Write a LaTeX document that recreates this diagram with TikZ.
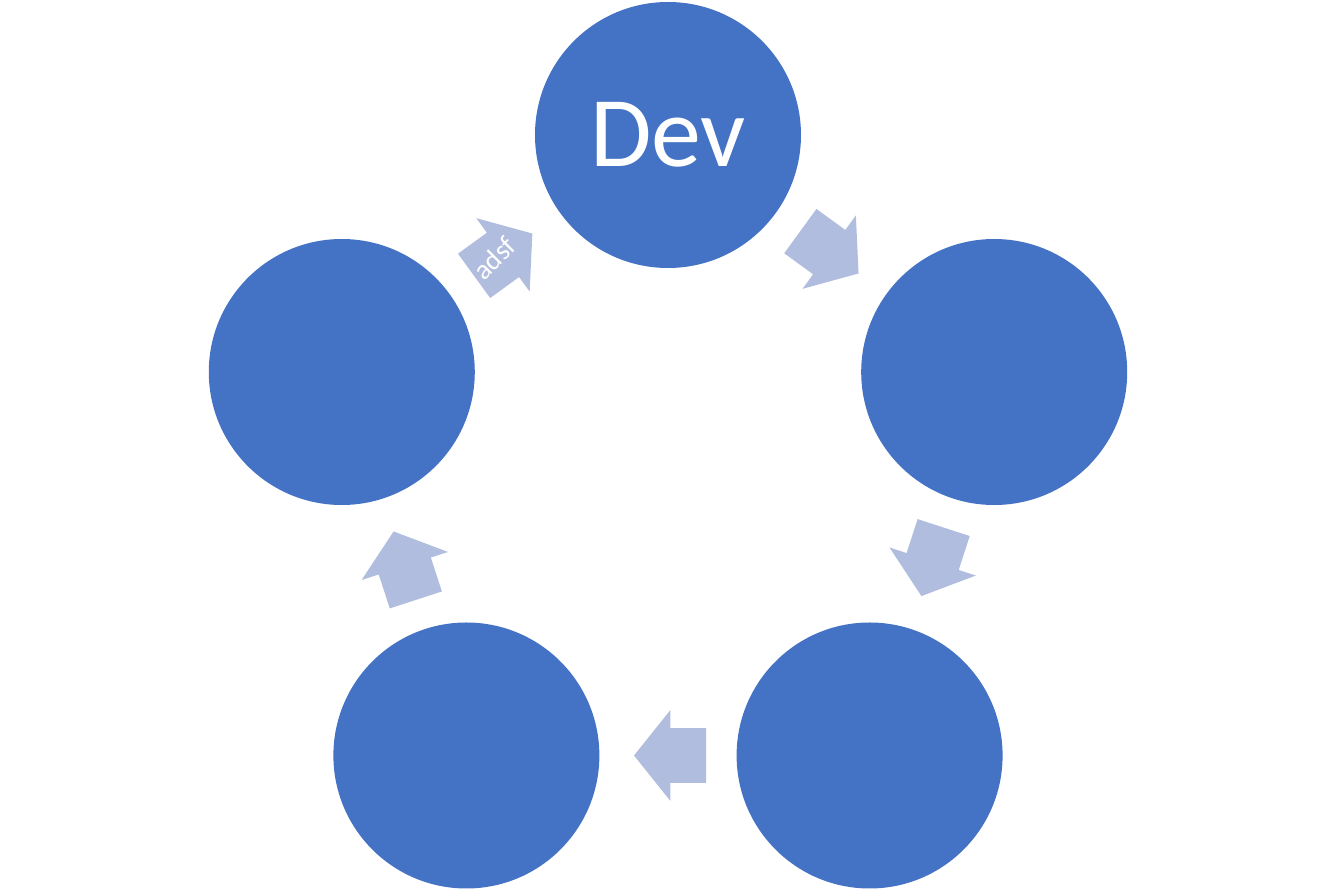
\documentclass[tikz,border=0pt]{standalone}
\usepackage{fontspec}
\setmainfont{Carlito}
\usepackage{xcolor}
\usetikzlibrary{calc,shapes.arrows}
\definecolor{stage}{HTML}{4472C4}
\definecolor{flow}{HTML}{B1BDDF}

\begin{document}
\begin{tikzpicture}[
    x=0.5pt, y=0.5pt,
    stage/.style={circle, fill=stage, minimum size=133pt, inner sep=0pt,
      text=white, font=\fontsize{50}{50}\selectfont},
    flow/.style={single arrow, fill=flow, inner xsep=0pt, inner ysep=13.5pt,
      minimum height=36pt, minimum width=45pt,
      single arrow head extend=9pt, single arrow tip angle=102.7}
  ]
  \useasboundingbox (-668,-411) rectangle (667,478);
  % stages round the cycle
  \foreach \i/\txt in {0/Dev,1/,2/,3/,4/} {
    \node[stage] (s\i) at (90-72*\i:343) {\txt};
  }
  % arrows between stages
  \foreach \i in {0,...,4} {
    \node[flow, rotate=-36-72*\i] (a\i)
      at ($(54-72*\i:277.5)+(144-72*\i:13)$) {};
  }
  \node[text=white, rotate=45, font=\fontsize{14}{14}\selectfont]
    (lbl) at ($(a4)+(0,3)$) {adsf};
\end{tikzpicture}
\end{document}
